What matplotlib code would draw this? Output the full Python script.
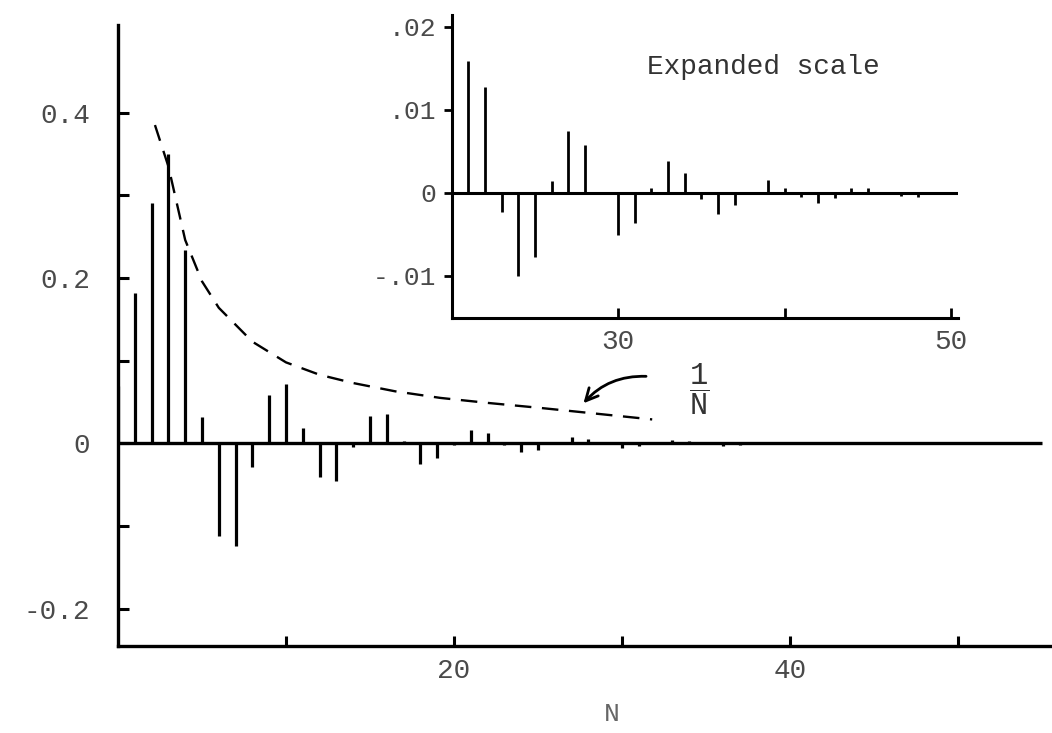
"""Spectral coefficients vs N, with an expanded-scale inset and the 1/N envelope."""

import matplotlib
matplotlib.use("Agg")
import matplotlib.pyplot as plt
import numpy as np

plt.rcParams["font.family"] = ["Liberation Mono", "DejaVu Sans Mono"]
plt.rcParams["mathtext.fontset"] = "custom"
plt.rcParams["mathtext.rm"] = "Liberation Mono"
plt.rcParams["mathtext.it"] = "Liberation Mono"

# coefficient at each N (21+ from the expanded inset)
n_vals = np.arange(0, 49)
coef = [
    0.069, 0.182, 0.291, 0.350, 0.234, 0.032, -0.112, -0.124, -0.028, 0.059,
    0.072, 0.019, -0.041, -0.045, -0.004, 0.033, 0.035, 0.003, -0.025, -0.018,
    -0.002, 0.0159, 0.0127, -0.0023, -0.0101, -0.0078, 0.0014, 0.0074, 0.0058, 0.0,
    -0.0051, -0.0037, 0.0006, 0.0038, 0.0024, -0.0008, -0.0026, -0.0015, 0.0, 0.0015,
    0.0005, -0.0005, -0.0012, -0.0006, 0.0005, 0.0005, 0.0, -0.0004, -0.0005,
]

# dashed 1/N envelope
env_n = [2.2, 3.0, 4.0, 5.0, 6.0, 8.0, 10.0, 12.0, 14.0, 16.5, 19.2, 22.0, 25.1, 27.5, 31.8]
env_y = [0.385, 0.335, 0.246, 0.196, 0.164, 0.123, 0.098, 0.083, 0.073, 0.063,
         0.055, 0.049, 0.043, 0.038, 0.029]

main_yticks = [-0.2, -0.1, 0.0, 0.1, 0.2, 0.3, 0.4]
main_ylabels = ["-0.2", "", "0", "", "0.2", "", "0.4"]
main_xticks = [10, 20, 30, 40, 50]
main_xlabels = ["", "20", "", "40", ""]

inset_yticks = [-0.01, 0.0, 0.01, 0.02]
inset_ylabels = ["-.01", "0", ".01", ".02"]
inset_xticks = [30, 40, 50]
inset_xlabels = ["30", "", "50"]

W, H = 1052, 733
fig = plt.figure(figsize=(W / 100, H / 100), dpi=100)
fig.patch.set_facecolor("white")

label_color = "#4a4a4a"

# ---- main axes
ax = fig.add_axes([118 / W, (H - 646) / H, (W - 118) / W, (646 - 25) / H])
ax.set_xlim(0, 55.6)
ax.set_ylim(-0.245, 0.506)
for side in ("top", "right"):
    ax.spines[side].set_visible(False)
for side in ("left", "bottom"):
    ax.spines[side].set_linewidth(2.4)

n = np.array(n_vals)
c = np.array(coef)
ax.vlines(n, 0, c, color="black", linewidth=2.3)
ax.hlines(0, 0, 55, color="black", linewidth=2.4)
ax.plot(env_n, env_y, color="black", linewidth=1.7, linestyle=(0, (7, 4.5)))

ax.set_yticks(main_yticks)
ax.set_yticklabels(main_ylabels)
ax.set_xticks(main_xticks)
ax.set_xticklabels(main_xlabels)
ax.tick_params(axis="y", direction="in", length=8, width=2.2, pad=20,
               labelsize=20, labelcolor=label_color)
ax.tick_params(axis="x", direction="in", length=7, width=2.2, pad=9,
               labelsize=20, labelcolor=label_color)
ax.set_xlabel("N", fontsize=19, color="#666666")
ax.xaxis.set_label_coords((612 - 118) / (W - 118), -0.09)

# 1/N label with curved arrow
ax.text(34.6, 0.066, r"$\dfrac{1}{N}$", fontsize=22, color="#333333",
        ha="center", va="center")
ax.annotate("", xy=(27.6, 0.046), xytext=(31.6, 0.081),
            arrowprops=dict(arrowstyle="->", color="black", lw=2.0,
                            mutation_scale=22,
                            connectionstyle="arc3,rad=0.25"))

# ---- inset (expanded scale)
ins = fig.add_axes([451.6 / W, (H - 318) / H, (958 - 451.6) / W, (318 - 15) / H])
ins.patch.set_alpha(0)
ins.set_xlim(20, 50.4)
ins.set_ylim(-0.0151, 0.0214)
for side in ("top", "right"):
    ins.spines[side].set_visible(False)
for side in ("left", "bottom"):
    ins.spines[side].set_linewidth(2.2)

sel = n >= 21
ins.vlines(n[sel], 0, c[sel], color="black", linewidth=2.0)
ins.axhline(0, color="black", linewidth=2.2)

ins.set_yticks(inset_yticks)
ins.set_yticklabels(inset_ylabels)
ins.set_xticks(inset_xticks)
ins.set_xticklabels(inset_xlabels)
ins.tick_params(axis="y", direction="out", length=6, width=2.0, pad=5,
                labelsize=19, labelcolor=label_color)
ins.tick_params(axis="x", direction="in", length=7, width=2.0, pad=8,
                labelsize=20, labelcolor=label_color)
ins.text(0.385, 0.83, "Expanded scale", transform=ins.transAxes,
         fontsize=20, color="#333333", ha="left", va="center")

fig.savefig("out.png", dpi=100, facecolor="white")
plt.close(fig)
